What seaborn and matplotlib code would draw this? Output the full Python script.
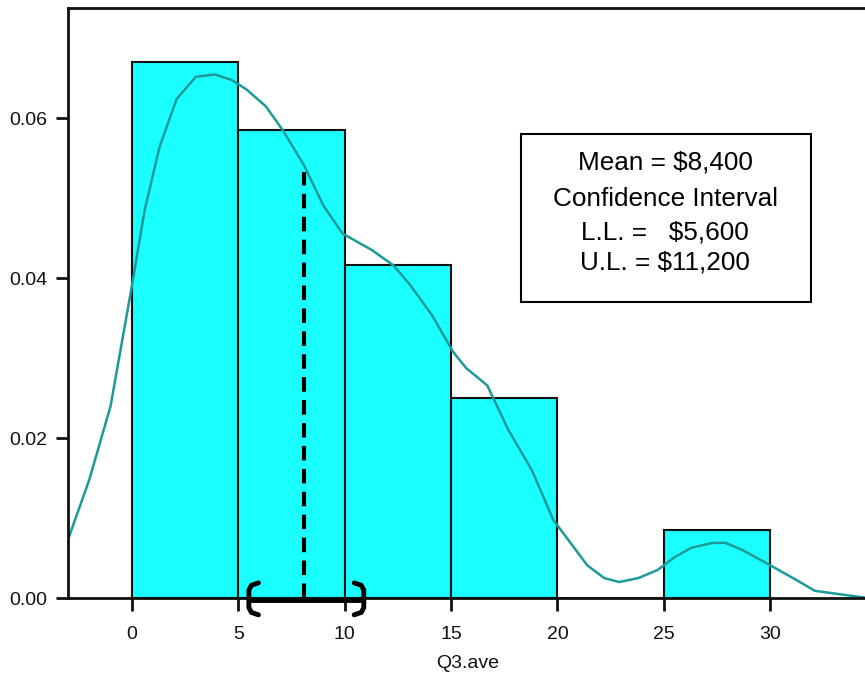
import numpy as np
import pandas as pd
import seaborn as sns
import matplotlib.pyplot as plt
from matplotlib.patches import Rectangle

# histogram of Q3.ave (density)
bin_edges = [0, 5, 10, 15, 20, 25, 30]
bin_heights = [0.067, 0.0586, 0.0417, 0.025, 0.0, 0.0085]

# smoothed density curve
kde_x = [-3.0, -2.0, -1.0, 0.0, 0.6, 1.3, 2.1, 3.0, 3.9, 4.7, 5.4, 6.3, 7.1, 8.1, 9.0,
         9.9, 11.3, 12.3, 13.1, 14.1, 15.1, 15.7, 16.7, 17.7, 18.8, 19.8, 20.7, 21.4,
         22.2, 22.9, 23.8, 24.7, 25.5, 26.3, 27.3, 27.9, 28.7, 30.0, 31.2, 32.1, 34.6]
kde_y = [0.0073, 0.0148, 0.024, 0.039, 0.0485, 0.0564, 0.0624, 0.0652, 0.0655, 0.0648,
         0.0636, 0.0615, 0.0585, 0.0541, 0.0491, 0.0456, 0.0435, 0.0416, 0.0391, 0.0354,
         0.0308, 0.0288, 0.0266, 0.021, 0.016, 0.0098, 0.0066, 0.0041, 0.0025, 0.002,
         0.0025, 0.0035, 0.0051, 0.0063, 0.0069, 0.0069, 0.006, 0.0041, 0.0023, 0.0009, 0.0]

mean_val = 8.1
ci_low, ci_high = 5.5, 10.9
mean_line_top = 0.0533

box_lines = ["Mean = $8,400", "Confidence Interval", "L.L. =   $5,600", "U.L. = $11,200"]

sns.set_style("ticks")
plt.rcParams['font.family'] = ['Liberation Sans', 'DejaVu Sans']
plt.rcParams['text.color'] = '#111111'
plt.rcParams['xtick.labelcolor'] = '#111111'
plt.rcParams['ytick.labelcolor'] = '#111111'
plt.rcParams['axes.labelcolor'] = '#111111'

fig = plt.figure(figsize=(8.65, 6.75), dpi=100)
ax = fig.add_axes([0.0786, 0.114, 0.925, 0.874])

centers = [(a + b) / 2 for a, b in zip(bin_edges[:-1], bin_edges[1:])]
df = pd.DataFrame({"x": centers, "w": bin_heights})
sns.histplot(data=df, x="x", weights="w", bins=bin_edges, stat="count",
             color="#1AFFFF", alpha=1, edgecolor="#111111", linewidth=1.5, ax=ax)

kde = pd.DataFrame({"x": kde_x, "y": kde_y})
sns.lineplot(data=kde, x="x", y="y", sort=False, estimator=None,
             color="#1C9A9A", linewidth=1.8, ax=ax)

# mean line
ax.plot([mean_val, mean_val], [0, mean_line_top], color="black", lw=3,
        linestyle=(0, (3.5, 2)), zorder=5)

# confidence interval bracket
ax.plot([ci_low, ci_high], [-0.0003, -0.0003], color="black", lw=3.5,
        clip_on=False, zorder=6, solid_capstyle="butt")
top, bot = 0.0019, -0.0021
for x0, d in [(ci_low, 1), (ci_high, -1)]:
    bx = [x0 + d * 0.45, x0 + d * 0.12, x0, x0, x0 + d * 0.12, x0 + d * 0.45]
    by = [top, top - 0.0003, top - 0.0009, bot + 0.0009, bot + 0.0003, bot]
    ax.plot(bx, by, color="black", lw=3.5, clip_on=False, zorder=6,
            solid_joinstyle="round", solid_capstyle="round")

# text box
ax.add_patch(Rectangle((0.566, 0.502), 0.362, 0.284, transform=ax.transAxes,
                       facecolor="white", edgecolor="black", lw=1.5, zorder=7))
for txt, ty in zip(box_lines, [0.739, 0.676, 0.620, 0.568]):
    ax.text(0.7465, ty, txt, transform=ax.transAxes, ha="center", va="center",
            fontsize=18.8, color="black", zorder=8)

ax.set_xlim(-3.0, 34.6)
ax.set_ylim(0, 0.0738)
ax.set_xticks([0, 5, 10, 15, 20, 25, 30])
ax.set_yticks([0.0, 0.02, 0.04, 0.06])
ax.set_yticklabels(["0.00", "0.02", "0.04", "0.06"])
ax.tick_params(axis="both", labelsize=14, length=9, width=2, color="#111111")
ax.tick_params(axis="x", pad=11)
ax.tick_params(axis="y", pad=6)
ax.set_xlabel("Q3.ave", fontsize=14, labelpad=9)
ax.set_ylabel("")
for s in ax.spines.values():
    s.set_linewidth(2)
    s.set_color("#111111")

fig.savefig("out.png", dpi=100)
